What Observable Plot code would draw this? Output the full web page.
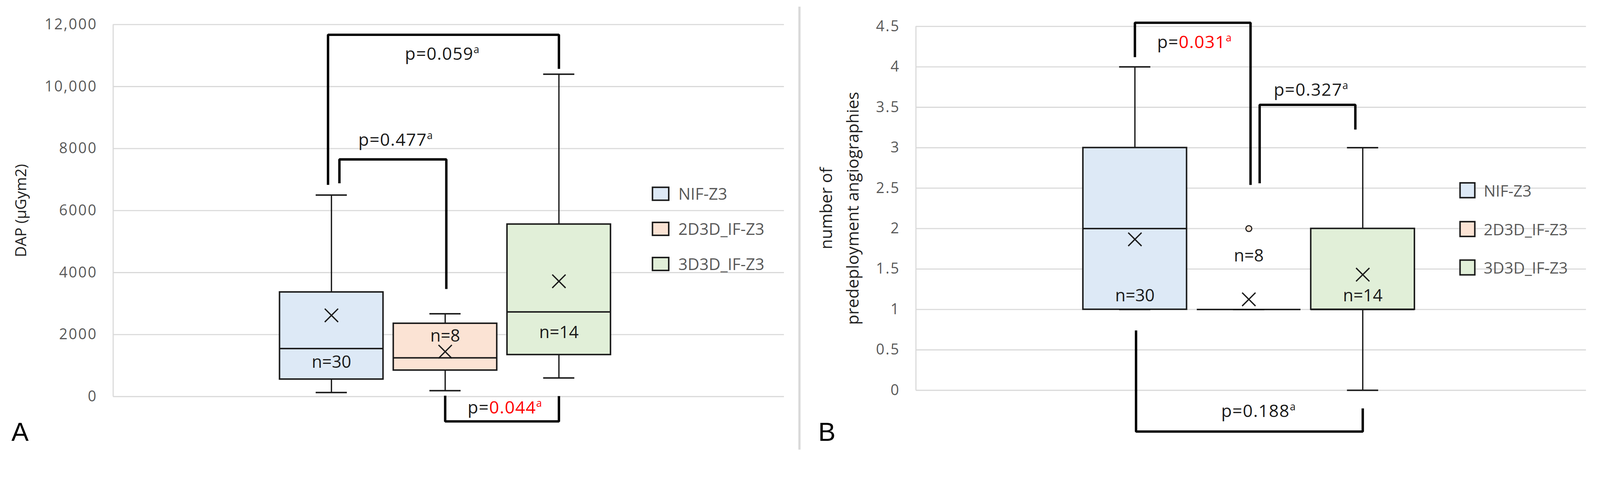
<!DOCTYPE html>
<html>
<head>
<meta charset="utf-8">
<script src="https://cdn.jsdelivr.net/npm/d3@7"></script>
<script src="https://cdn.jsdelivr.net/npm/@observablehq/plot@0.6"></script>
<style>
  html, body { margin: 0; padding: 0; background: #fff; overflow: hidden; }
  #wrap { position: relative; width: 4333px; height: 1241px; overflow: hidden; background: #fff; font-family: "Open Sans", sans-serif; transform-origin: 0 0; }
  .divider { position: absolute; left: 2162px; top: 18px; width: 6px; height: 1199px; background: #d9d9d9; }
  .letter { position: absolute; font-family: "Liberation Sans", Arial, sans-serif; font-size: 70px; line-height: 1; color: #000; }
  .legend-row { position: absolute; display: flex; align-items: center; white-space: nowrap; }
  .legend-row .sw { box-sizing: border-box; border: 4px solid #1a1a1a; }
  .legend-row .tx { color: #595959; font-family: "Open Sans", sans-serif; line-height: 1; }
  g[aria-label="y-axis tick label"] { fill: #595959; letter-spacing: 3px; }
</style>
</head>
<body>
<div id="wrap"></div>
<script>
// ---------------- DATA ----------------
const groups = ["NIF-Z3", "2D3D_IF-Z3", "3D3D_IF-Z3"];

// Panel A: DAP (µGym2)
const dapLow = [130, 190, 600];
const dapQ1 = [560, 850, 1350];
const dapMedian = [1550, 1250, 2730];
const dapQ3 = [3370, 2360, 5560];
const dapHigh = [6500, 2670, 10400];
const dapMean = [2620, 1450, 3720];
const dapN = [30, 8, 14];
const dapNLabelAt = [1110, 1950, 2060];
const dapTicks = [0, 2000, 4000, 6000, 8000, 10000, 12000];
const dapTickLabels = ["0", "2000", "4000", "6000", "8000", "10,000", "12,000"];
const dapPFrom = ["NIF-Z3", "NIF-Z3", "2D3D_IF-Z3"];
const dapPTo = ["3D3D_IF-Z3", "2D3D_IF-Z3", "3D3D_IF-Z3"];
const dapP = ["0.059", "0.477", "0.044"];
const dapPSignificant = [false, false, true];
const dapBracketTop = [11670, 7650, -800];
const dapBracketFromEnd = [6830, 6880, 30];
const dapBracketToEnd = [10570, 3470, 15];
const dapPLabelAt = [11040, 8270, -360];

// Panel B: number of predeployment angiographies
const angLow = [1, 1, 0];
const angQ1 = [1, 1, 1];
const angMedian = [2, 1, 1];
const angQ3 = [3, 1, 2];
const angHigh = [4, 1, 3];
const angMean = [1.867, 1.125, 1.43];
const angN = [30, 8, 14];
const angNLabelAt = [1.17, 1.66, 1.17];
const angOutlierGroup = ["2D3D_IF-Z3"];
const angOutlierValue = [2];
const angTicks = [0, 0.5, 1, 1.5, 2, 2.5, 3, 3.5, 4, 4.5];
const angTickLabels = ["0", "0.5", "1", "1.5", "2", "2.5", "3", "3.5", "4", "4.5"];
const angPFrom = ["NIF-Z3", "2D3D_IF-Z3", "NIF-Z3"];
const angPTo = ["2D3D_IF-Z3", "3D3D_IF-Z3", "3D3D_IF-Z3"];
const angP = ["0.031", "0.327", "0.188"];
const angPSignificant = [true, false, false];
const angBracketTop = [4.545, 3.53, -0.51];
const angBracketFromEnd = [4.12, 2.56, 0.74];
const angBracketToEnd = [2.54, 3.225, -0.224];
const angPLabelAt = [4.30, 3.71, -0.26];

// ---------------- STYLE ----------------
const groupFill = ["#dde9f6", "#fbe3d4", "#e1efd8"];
const ink = "#1a1a1a", red = "#ff0000", gridGrey = "#d9d9d9";
const boxHalf = 0.455, capHalf = 0.137;

const wrap = document.getElementById("wrap");
// fit the 4333×1241 layout to the actual viewport
const fit = Math.min(1, (window.innerWidth || 4333) / 4333);
if (fit < 0.999) wrap.style.transform = `scale(${fit})`;

function buildPanel(cfg) {
  const rows = groups.map((g, i) => ({
    g, i, lo: cfg.lo[i], q1: cfg.q1[i], med: cfg.med[i], q3: cfg.q3[i], hi: cfg.hi[i],
    mean: cfg.mean[i], n: cfg.n[i], nAt: cfg.nAt[i]
  }));
  const brackets = cfg.p.map((p, k) => {
    const a = groups.indexOf(cfg.from[k]) + cfg.shift[k][0];
    const b = groups.indexOf(cfg.to[k]) + cfg.shift[k][1];
    return {k, a, b, top: cfg.top[k], endA: cfg.endA[k], endB: cfg.endB[k], at: cfg.pAt[k], p, sig: cfg.sig[k], dx: cfg.pDx[k]};
  });
  const bracketPts = brackets.flatMap(d => [
    {k: d.k, x: d.a, y: d.endA}, {k: d.k, x: d.a, y: d.top},
    {k: d.k, x: d.b, y: d.top}, {k: d.k, x: d.b, y: d.endB}
  ]);
  const outliers = (cfg.outG || []).map((g, j) => ({i: groups.indexOf(g), v: cfg.outV[j], g}));

  const marks = [
    Plot.gridY(cfg.ticks, {stroke: gridGrey, strokeOpacity: 1, strokeWidth: 3}),
    Plot.ruleX([cfg.xDomain[0]], {y1: cfg.yDomain[0], y2: cfg.yDomain[1], stroke: gridGrey, strokeWidth: 3}),
    Plot.axisY(cfg.ticks, {
      tickSize: 0, tickPadding: 43, fontSize: cfg.tickSize, label: null,
      tickFormat: d => cfg.tickLabels[cfg.ticks.indexOf(d)], fill: "#595959"
    }),
    Plot.text([cfg.yLabel], {text: d => d, frameAnchor: "left", dx: cfg.yLabelDx, rotate: -90,
      textAnchor: "middle", lineAnchor: "middle", fontSize: cfg.yLabelSize, lineHeight: cfg.yLabelLH, fill: "#1f1f1f"}),
    Plot.ruleX(rows, {x: "i", y1: "q3", y2: "hi", stroke: ink, strokeWidth: 3.5}),
    Plot.ruleX(rows, {x: "i", y1: "lo", y2: "q1", stroke: ink, strokeWidth: 3.5}),
    Plot.rect(rows, {x1: d => d.i - boxHalf, x2: d => d.i + boxHalf, y1: "q1", y2: "q3", fill: "g", stroke: ink, strokeWidth: 4}),
    Plot.ruleY(rows, {x1: d => d.i - boxHalf, x2: d => d.i + boxHalf, y: "med", stroke: ink, strokeWidth: 4}),
    Plot.ruleY(rows, {x1: d => d.i - capHalf, x2: d => d.i + capHalf, y: "hi", stroke: ink, strokeWidth: 4}),
    Plot.ruleY(rows, {x1: d => d.i - capHalf, x2: d => d.i + capHalf, y: "lo", stroke: ink, strokeWidth: 4}),
    Plot.dot(outliers, {x: "i", y: "v", r: 8, fill: "g", stroke: ink, strokeWidth: 3}),
    Plot.dot(rows, {x: "i", y: "mean", symbol: "times", r: 16.5, stroke: ink, strokeWidth: 3.5}),
    Plot.text(rows, {x: "i", y: "nAt", text: d => "n=" + d.n, fontSize: 46, fill: ink}),
    Plot.line(bracketPts, {x: "x", y: "y", z: "k", stroke: "#000", strokeWidth: 6.5,
      strokeLinejoin: "miter", strokeLinecap: "butt", curve: "linear"}),
    Plot.text(brackets, {x: d => (d.a + d.b) / 2, y: "at", text: d => "p=" + d.p + "a",
      fontSize: 47, fill: ink})
  ];

  const svg = Plot.plot({
    width: cfg.width, height: 1241,
    marginLeft: cfg.marginLeft, marginRight: cfg.marginRight,
    marginTop: cfg.marginTop, marginBottom: cfg.marginBottom,
    style: {fontFamily: "'Open Sans', sans-serif", fontSize: "40px", background: "transparent", overflow: "visible"},
    x: {type: "linear", domain: cfg.xDomain, axis: null},
    y: {domain: cfg.yDomain},
    color: {domain: groups, range: groupFill},
    marks
  });

  // p-value labels: "p=" + value (red when significant) + superscript "a"
  const pTexts = d3.select(svg).selectAll("text").filter(function() {
    return /^p=\d/.test(this.textContent || "");
  });
  pTexts.each(function(_, k) {
    const b = brackets[k];
    if (!b) return;
    const t = d3.select(this);
    t.attr("letter-spacing", "1.5px");
    if (b.dx) t.attr("dx", b.dx);
    t.text(null);
    t.append("tspan").attr("fill", ink).text("p=");
    t.append("tspan").attr("fill", b.sig ? red : ink).text(b.p);
    t.append("tspan").attr("fill", b.sig ? red : ink).attr("font-size", 28).attr("dy", -18).text("a");
  });

  svg.style.position = "absolute";
  svg.style.left = cfg.left + "px";
  svg.style.top = "0px";
  wrap.appendChild(svg);

  cfg.legendY.forEach((cy, i) => {
    const row = document.createElement("div");
    row.className = "legend-row";
    row.style.left = cfg.legendX + "px";
    row.style.top = (cy - cfg.swH / 2) + "px";
    row.style.height = cfg.swH + "px";
    const sw = document.createElement("div");
    sw.className = "sw";
    sw.style.width = cfg.swW + "px";
    sw.style.height = cfg.swH + "px";
    sw.style.background = groupFill[i];
    const tx = document.createElement("div");
    tx.className = "tx";
    tx.style.fontSize = cfg.legendFont + "px";
    tx.style.marginLeft = cfg.legendGap + "px";
    tx.textContent = groups[i];
    row.appendChild(sw);
    row.appendChild(tx);
    wrap.appendChild(row);
  });

  const letter = document.createElement("div");
  letter.className = "letter";
  letter.textContent = cfg.letter;
  letter.style.left = cfg.letterX + "px";
  letter.style.top = "1134px";
  wrap.appendChild(letter);
}

buildPanel({
  left: 0, width: 2165, marginLeft: 306, marginRight: 42, marginTop: 66, marginBottom: 168,
  xDomain: [-1.919, 3.98], yDomain: [0, 12000],
  ticks: dapTicks, tickLabels: dapTickLabels, tickSize: 40,
  yLabel: "DAP (µGym2)", yLabelDx: -249, yLabelSize: 41, yLabelLH: 1,
  lo: dapLow, q1: dapQ1, med: dapMedian, q3: dapQ3, hi: dapHigh, mean: dapMean, n: dapN, nAt: dapNLabelAt,
  from: dapPFrom, to: dapPTo, p: dapP, sig: dapPSignificant, top: dapBracketTop,
  endA: dapBracketFromEnd, endB: dapBracketToEnd, pAt: dapPLabelAt,
  shift: [[-0.03, 0], [0.07, 0.01], [0, 0]], pDx: [-3, 8, 8],
  legendX: 1765, legendY: [524, 619, 714], swW: 48, swH: 39, legendFont: 44, legendGap: 24,
  letter: "A", letterX: 31
});

buildPanel({
  left: 2165, width: 2168, marginLeft: 315, marginRight: 38, marginTop: 71, marginBottom: 185,
  xDomain: [-1.922, 3.961], yDomain: [0, 4.5],
  ticks: angTicks, tickLabels: angTickLabels, tickSize: 40,
  yLabel: "number of\npredeployment angiographies", yLabelDx: -214, yLabelSize: 45, yLabelLH: 1.6,
  lo: angLow, q1: angQ1, med: angMedian, q3: angQ3, hi: angHigh, mean: angMean, n: angN, nAt: angNLabelAt,
  outG: angOutlierGroup, outV: angOutlierValue,
  from: angPFrom, to: angPTo, p: angP, sig: angPSignificant, top: angBracketTop,
  endA: angBracketFromEnd, endB: angBracketToEnd, pAt: angPLabelAt,
  shift: [[0, 0.015], [0.095, -0.065], [0.01, 0]], pDx: [5, 10, 25],
  legendX: 3952, legendY: [515, 620, 724], swW: 44, swH: 44, legendFont: 43, legendGap: 22,
  letter: "B", letterX: 2216
});

const div = document.createElement("div");
div.className = "divider";
wrap.appendChild(div);
</script>
</body>
</html>
